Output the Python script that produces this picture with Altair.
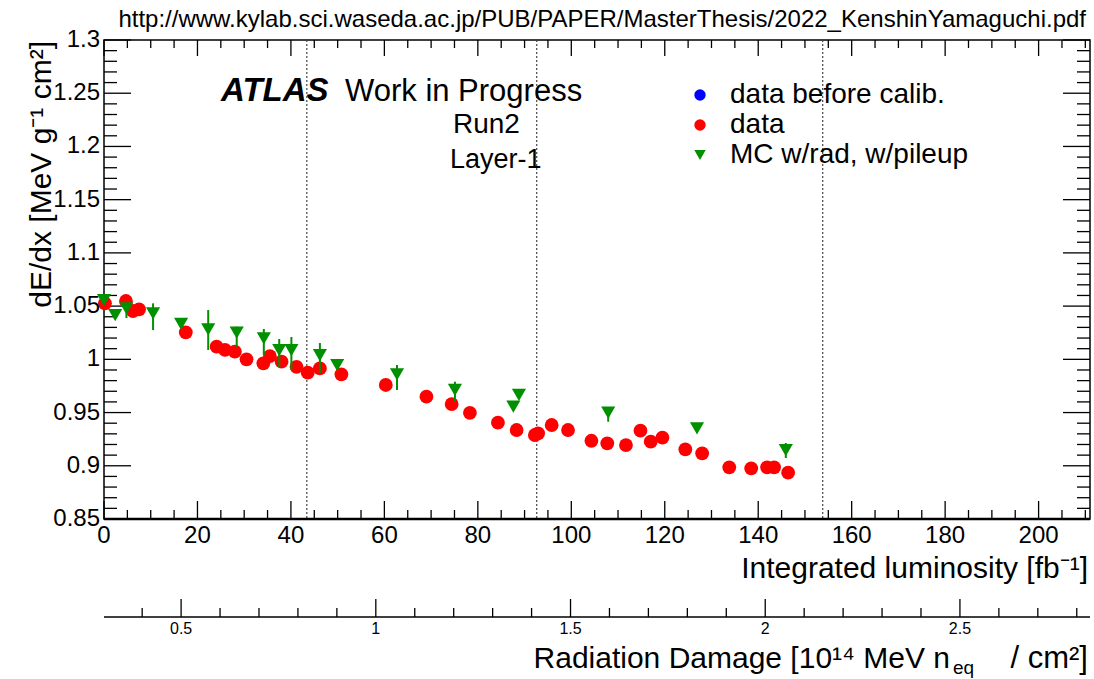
import altair as alt
import pandas as pd

W, H = 986, 479
FONT = "Liberation Sans"

# ---- data ----
lumi_data = [0.2, 4.7, 6.2, 7.5, 17.5, 24.1, 25.9, 28.0, 30.5, 34.1, 35.5, 38.0, 41.2, 43.6,
             46.2, 50.8, 60.3, 69.0, 74.4, 78.3, 84.3, 88.3, 92.2, 92.9, 95.8, 99.3, 104.3,
             107.7, 111.7, 114.8, 117.0, 119.5, 124.4, 128.0, 133.8, 138.5, 141.9, 143.4, 146.4]
dedx_data = [1.0526, 1.0548, 1.0454, 1.047, 1.0254, 1.0119, 1.0088, 1.0072, 1.0, 0.9963, 1.003,
             0.9978, 0.993, 0.9875, 0.9915, 0.9859, 0.9759, 0.9649, 0.958, 0.9498, 0.9405,
             0.9336, 0.9289, 0.9305, 0.9383, 0.9336, 0.9235, 0.9211, 0.9195, 0.9330, 0.9226,
             0.9264, 0.9155, 0.9117, 0.8986, 0.8976, 0.8986, 0.8986, 0.8935]

lumi_mc = [0.0, 2.4, 4.8, 10.5, 16.5, 22.3, 28.4, 34.2, 37.5, 40.1, 46.2, 49.9, 62.7, 75.1,
           87.6, 88.8, 107.9, 126.9, 145.9]
dedx_mc = [1.0557, 1.0416, 1.0478, 1.0432, 1.0332, 1.0282, 1.025, 1.0197, 1.0087, 1.0087,
           1.004, 0.9946, 0.9859, 0.9712, 0.9555, 0.9665, 0.9499, 0.9352, 0.9148]
mc_lo = [1.0557, 1.0416, 1.0388, 1.0275, 1.0332, 1.0088, 1.0119, 1.0041, 0.9928, 0.9900,
         0.9872, 0.9946, 0.9712, 0.9602, 0.9555, 0.9665, 0.9414, 0.9352, 0.9073]
mc_hi = [1.0557, 1.0416, 1.0510, 1.0526, 1.0332, 1.0463, 1.0307, 1.0285, 1.0191, 1.0210,
         1.0153, 0.9946, 0.9947, 0.9790, 0.9555, 0.9665, 0.9499, 0.9352, 0.9214]

year_edges = [43.4, 92.6, 153.8]

series = ["data before calib.", "data", "MC w/rad, w/pileup"]
series_colors = ["#0000ff", "#ff0000", "#009000"]
series_shapes = ["circle", "circle", "triangle-down"]

x_major = [0, 20, 40, 60, 80, 100, 120, 140, 160, 180, 200]
x_labels = ["0", "20", "40", "60", "80", "100", "120", "140", "160", "180", "200"]
x_minor = [v for v in range(0, 211, 5) if v % 20]
y_major = [0.85, 0.9, 0.95, 1.0, 1.05, 1.1, 1.15, 1.2, 1.25, 1.3]
y_labels = ["0.85", "0.9", "0.95", "1", "1.05", "1.1", "1.15", "1.2", "1.25", "1.3"]
y_minor = [round(0.85 + 0.01 * i, 2) for i in range(46) if i % 5]
rd_major = [0.5, 1.0, 1.5, 2.0, 2.5]
rd_labels = ["0.5", "1", "1.5", "2", "2.5"]
rd_minor = [round(0.1 * i, 1) for i in range(4, 29) if i % 5]

# ---- scales ----
xs = alt.Scale(domain=[0, 211], nice=False, zero=False)
ys = alt.Scale(domain=[0.85, 1.3], nice=False, zero=False)
rs = alt.Scale(domain=[0.302, 2.834], nice=False, zero=False)
cs = alt.Scale(domain=series, range=series_colors)
ss = alt.Scale(domain=series, range=series_shapes)

df_data = pd.DataFrame({"x": lumi_data, "y": dedx_data, "s": "data"})
df_mc = pd.DataFrame({"x": lumi_mc, "y": dedx_mc, "lo": mc_lo, "hi": mc_hi, "s": "MC w/rad, w/pileup"})

legend = alt.Legend(orient="none", legendX=582, legendY=41, title=None,
                    labelFontSize=28, labelFont=FONT, labelColor="black",
                    symbolSize=130, symbolStrokeWidth=0, rowPadding=2, labelOffset=16,
                    labelLimit=400)

X = lambda f: alt.X(f, scale=xs, axis=None)
Y = lambda f: alt.Y(f, scale=ys, axis=None)

red = alt.Chart(df_data).mark_point(filled=True, size=190, opacity=1).encode(
    x=X("x:Q"), y=Y("y:Q"),
    color=alt.Color("s:N", scale=cs, legend=legend),
    shape=alt.Shape("s:N", scale=ss, legend=legend),
)
bars = alt.Chart(df_mc).mark_rule(color="#009000", strokeWidth=2).encode(
    x=X("x:Q"), y=Y("lo:Q"), y2="hi:Q")
tri = alt.Chart(df_mc).mark_point(filled=True, size=200, opacity=1).encode(
    x=X("x:Q"), y=Y("y:Q"),
    color=alt.Color("s:N", scale=cs, legend=legend),
    shape=alt.Shape("s:N", scale=ss, legend=legend),
)
edges = alt.Chart(pd.DataFrame({"b": year_edges})).mark_rule(
    color="#444444", strokeDash=[2, 2], strokeWidth=1.2).encode(x=X("b:Q"))

def xticks(vals, y0, y1, sw=1.3):
    return alt.Chart(pd.DataFrame({"v": vals})).mark_rule(color="black", strokeWidth=sw).encode(
        x=X("v:Q"), y=alt.value(y0), y2=alt.value(y1))

def yticks(vals, x0, x1, sw=1.3):
    return alt.Chart(pd.DataFrame({"v": vals})).mark_rule(color="black", strokeWidth=sw).encode(
        y=Y("v:Q"), x=alt.value(x0), x2=alt.value(x1))

ticks = [
    xticks(x_major, H, H - 18), xticks(x_minor, H, H - 9),
    xticks(x_major, 0, 16), xticks(x_minor, 0, 8),
    yticks(y_major, 0, 27), yticks(y_minor, 0, 13),
    yticks(y_major, W, W - 27), yticks(y_minor, W, W - 13),
]

bottom_line = alt.Chart(pd.DataFrame({"a": [0]})).mark_rule(color="black", strokeWidth=2.5).encode(
    x=alt.value(0), x2=alt.value(W), y=alt.value(H))

x_tick_labels = alt.Chart(pd.DataFrame({"v": x_major, "t": x_labels})).mark_text(
    baseline="top", fontSize=24, font=FONT, color="black").encode(
    x=X("v:Q"), y=alt.value(H + 5), text="t:N")
y_tick_labels = alt.Chart(pd.DataFrame({"v": y_major, "t": y_labels})).mark_text(
    align="right", baseline="middle", fontSize=24, font=FONT, color="black").encode(
    y=Y("v:Q"), x=alt.value(-4), text="t:N")

def label(text, x, y, size, align="left", weight="normal", style="normal", angle=0, baseline="alphabetic"):
    return alt.Chart(pd.DataFrame({"t": [text]})).mark_text(
        align=align, baseline=baseline, fontSize=size, font=FONT, fontWeight=weight,
        fontStyle=style, angle=angle, color="black").encode(
        text="t:N", x=alt.value(x), y=alt.value(y))

texts = [
    label("http://www.kylab.sci.waseda.ac.jp/PUB/PAPER/MasterThesis/2022_KenshinYamaguchi.pdf",
          W - 4, -13, 24, align="right"),
    label("ATLAS", 117, 61, 33, weight="bold", style="italic"),
    label("Work in Progress", 241, 61, 31),
    label("Run2", 349, 93, 28),
    label("Layer-1", 346, 128, 27),
    label("Integrated luminosity [fb⁻¹]", W - 2, H + 59, 30, align="right"),
    label("dE/dx [MeV g⁻¹ cm²]", -53, 1, 30, align="right", angle=270),
    label("Radiation Damage [10¹⁴ MeV n", 846, H + 149, 30, align="right"),
    label("eq", 849, H + 155, 19),
    label("/ cm²]", W - 2, H + 149, 31, align="right"),
]

main = alt.layer(edges, *ticks, bottom_line, red, bars, tri, x_tick_labels, y_tick_labels, *texts)

RY = H + 98
rd_line = alt.Chart(pd.DataFrame({"a": [0]})).mark_rule(color="black", strokeWidth=1.5).encode(
    x=alt.value(0), x2=alt.value(W), y=alt.value(RY))
rd_maj = alt.Chart(pd.DataFrame({"v": rd_major})).mark_rule(color="black", strokeWidth=1.3).encode(
    x=alt.X("v:Q", scale=rs, axis=None), y=alt.value(RY), y2=alt.value(RY - 18))
rd_min = alt.Chart(pd.DataFrame({"v": rd_minor})).mark_rule(color="black", strokeWidth=1.3).encode(
    x=alt.X("v:Q", scale=rs, axis=None), y=alt.value(RY), y2=alt.value(RY - 9))
rd_lab = alt.Chart(pd.DataFrame({"v": rd_major, "t": rd_labels})).mark_text(
    baseline="top", fontSize=16, font=FONT, color="black").encode(
    x=alt.X("v:Q", scale=rs, axis=None), y=alt.value(RY + 4), text="t:N")
secondary = alt.layer(rd_line, rd_maj, rd_min, rd_lab)

chart = alt.layer(main, secondary).resolve_scale(x="independent").properties(
    width=W, height=H,
    autosize=alt.AutoSizeParams(type="none"),
    padding={"left": 104, "top": 40, "right": 4, "bottom": 160},
    background="white",
).configure_view(stroke="black", strokeWidth=1.5)

chart.save("out.html", embed_options={"renderer": "svg", "actions": False})
